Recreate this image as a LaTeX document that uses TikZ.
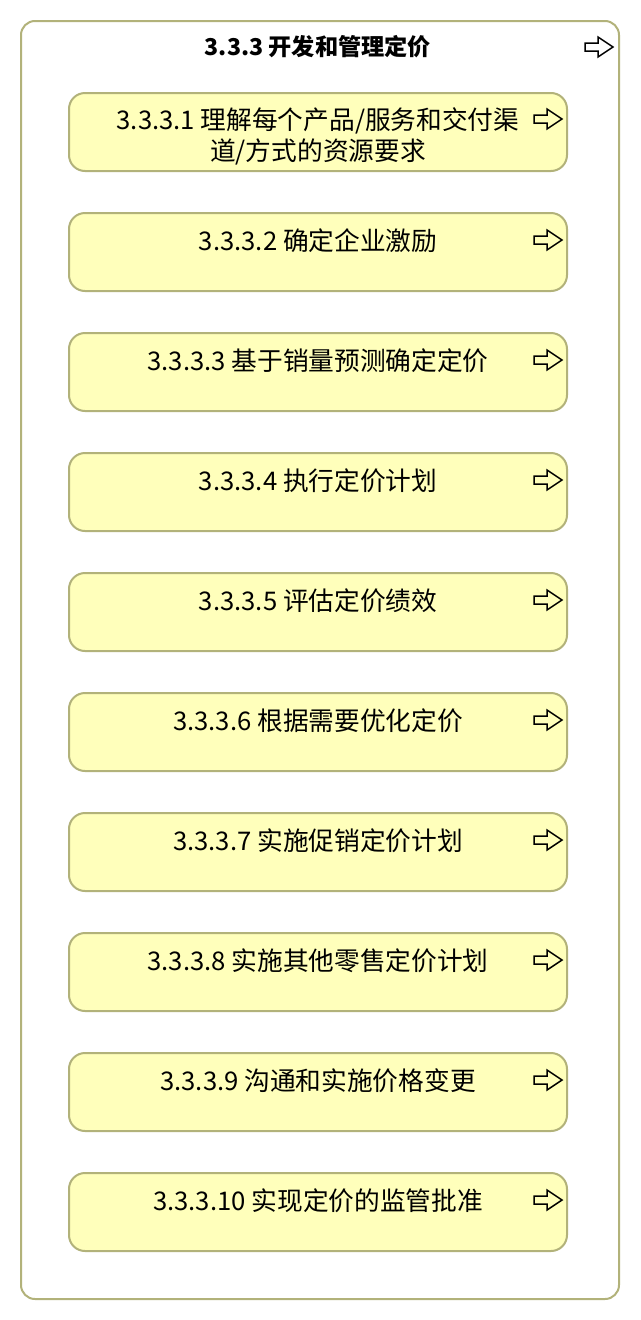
\documentclass[tikz,border=0pt]{standalone}
\usepackage{fontspec}
\setmainfont{Noto Sans CJK SC}
\usetikzlibrary{positioning}

\definecolor{olive}{RGB}{178,178,122}
\definecolor{paleyellow}{RGB}{255,255,187}

\tikzset{
  groupbox/.style={draw=olive, line width=2pt, fill=white, rounded corners=14pt,
    minimum width=598pt, minimum height=1278pt, inner sep=0pt},
  procbox/.style={draw=olive, line width=2pt, fill=paleyellow, rounded corners=16pt,
    minimum width=498pt, minimum height=78pt, inner sep=0pt},
  proctext/.style={align=center, inner sep=0pt, font=\fontsize{25.7}{31}\selectfont},
  grouptitle/.style={inner sep=0pt, font=\bfseries\fontsize{23.2}{28}\selectfont},
  goarrow/.pic={
    \draw[line width=1.5pt, line join=miter]
      (-14,-4) -- (-1,-4) -- (-1,-10) -- (14,0) -- (-1,10) -- (-1,4) -- (-14,4) -- cycle;
  }
}

\begin{document}
\begin{tikzpicture}[x=1pt,y=-1pt]

  \useasboundingbox (0,0) rectangle (640,1320);

  % group
  \node[groupbox] (g) at (320,660) {};
  \node[grouptitle] (gt) at (318,47) {3.3.3 开发和管理定价};
  \pic at (599,47) {goarrow};

  % processes
  \node[procbox] (p1)  at (318,132)  {};
  \node[procbox] (p2)  at (318,252)  {};
  \node[procbox] (p3)  at (318,372)  {};
  \node[procbox] (p4)  at (318,492)  {};
  \node[procbox] (p5)  at (318,612)  {};
  \node[procbox] (p6)  at (318,732)  {};
  \node[procbox] (p7)  at (318,852)  {};
  \node[procbox] (p8)  at (318,972)  {};
  \node[procbox] (p9)  at (318,1092) {};
  \node[procbox] (p10) at (318,1212) {};

  \node[proctext] (t1)  at ([yshift=-4pt]p1.center)  {3.3.3.1 理解每个产品/服务和交付渠\\道/方式的资源要求};
  \node[proctext] (t2)  at ([yshift=11pt]p2.center)  {3.3.3.2 确定企业激励};
  \node[proctext] (t3)  at ([yshift=11pt]p3.center)  {3.3.3.3 基于销量预测确定定价};
  \node[proctext] (t4)  at ([yshift=11pt]p4.center)  {3.3.3.4 执行定价计划};
  \node[proctext] (t5)  at ([yshift=11pt]p5.center)  {3.3.3.5 评估定价绩效};
  \node[proctext] (t6)  at ([yshift=11pt]p6.center)  {3.3.3.6 根据需要优化定价};
  \node[proctext] (t7)  at ([yshift=11pt]p7.center)  {3.3.3.7 实施促销定价计划};
  \node[proctext] (t8)  at ([yshift=11pt]p8.center)  {3.3.3.8 实施其他零售定价计划};
  \node[proctext] (t9)  at ([yshift=11pt]p9.center)  {3.3.3.9 沟通和实施价格变更};
  \node[proctext] (t10) at ([yshift=11pt]p10.center) {3.3.3.10 实现定价的监管批准};

  % arrow icons
  \pic at ([xshift=-20pt,yshift=13pt]p1.east)  {goarrow};
  \pic at ([xshift=-20pt,yshift=12pt]p2.east)  {goarrow};
  \pic at ([xshift=-20pt,yshift=12pt]p3.east)  {goarrow};
  \pic at ([xshift=-20pt,yshift=12pt]p4.east)  {goarrow};
  \pic at ([xshift=-20pt,yshift=12pt]p5.east)  {goarrow};
  \pic at ([xshift=-20pt,yshift=12pt]p6.east)  {goarrow};
  \pic at ([xshift=-20pt,yshift=12pt]p7.east)  {goarrow};
  \pic at ([xshift=-20pt,yshift=12pt]p8.east)  {goarrow};
  \pic at ([xshift=-20pt,yshift=12pt]p9.east)  {goarrow};
  \pic at ([xshift=-20pt,yshift=12pt]p10.east) {goarrow};

\end{tikzpicture}
\end{document}
